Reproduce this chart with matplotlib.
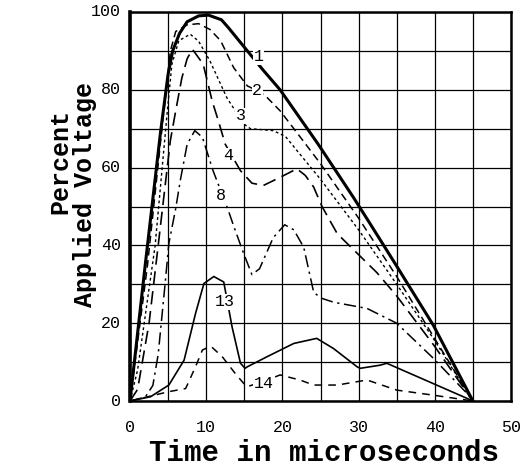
import matplotlib
matplotlib.use("Agg")
import matplotlib.pyplot as plt

# ---- data ----
t1 = [0, 2, 4, 5, 5.6, 6.5, 7.5, 9, 10.3, 12, 12.9, 15.4, 17.5, 19.7, 24.7, 29.3, 31.5, 34.8, 39.8, 45]
v1 = [0, 35, 69, 84, 90, 94.5, 97.5, 99, 99.2, 98, 96, 90, 85, 80, 66, 52.4, 45.6, 35.3, 19.5, 0]

t2 = [0, 2.3, 4.3, 4.7, 5.3, 6, 7.5, 9, 10.5, 11.9, 13.6, 15.4, 17, 18, 19.7, 21.7, 25, 30, 35, 40, 45]
v2 = [0, 35, 72, 79, 90, 95, 96.7, 97, 95.5, 92.6, 85.7, 81, 79.5, 78, 74.6, 69.5, 61, 47, 32, 16, 0]

t3 = [0, 1, 3.3, 4.9, 5.5, 6.4, 7.9, 9, 10.5, 12.7, 14.9, 15.8, 18.8, 20.4, 25, 30, 35, 40, 45]
v3 = [0, 8, 40, 74.6, 86.6, 92.6, 94.3, 92.5, 87.4, 78, 71.3, 70, 69.5, 68, 57, 44, 30, 15.5, 0]

t4 = [0, 1, 2.5, 3.7, 5.3, 6.0, 6.8, 7.5, 8.2, 9.6, 10.8, 11.6, 12.5, 14.5, 16, 17.5, 19.7, 21.9, 23, 24.1, 25.2, 27.2, 29.8, 32.4, 35, 40, 45]
v4 = [0, 3, 20, 40, 67, 74.6, 83, 88, 90.4, 86.6, 77, 72, 66, 59.2, 56, 55.4, 57.5, 59.7, 58, 55, 50, 43, 38, 33, 27, 14, 0]

t8 = [0, 2, 3, 3.7, 4.6, 5.1, 6.0, 6.6, 7.5, 8.5, 9.5, 10.9, 12.9, 13.6, 14.9, 16.0, 17, 18.8, 20.3, 21.5, 22.8, 24.1, 25, 26.7, 31.1, 35, 39.8, 44.2, 45]
v8 = [0, 1, 4, 12, 30, 40.5, 49.5, 56.7, 66, 69.5, 67.8, 59.2, 49, 45, 38, 32.5, 34, 42, 45.3, 44, 39.5, 28, 26.5, 25.4, 23.8, 20, 11, 2, 0]

t13 = [0, 2.7, 5.1, 7.1, 8.6, 9.7, 11, 12.3, 13.4, 14.5, 15.1, 15.4, 18, 21.5, 24.5, 26.7, 29.8, 30.2, 32.8, 33.7, 44.2, 45]
v13 = [0, 1.1, 4.1, 10.5, 22.5, 30.2, 32, 30.6, 19, 9.7, 8.4, 8.8, 11.4, 14.8, 16.1, 13.5, 8.8, 8.4, 9.2, 9.7, 0.7, 0]

t14 = [0, 5.1, 7.3, 8.6, 9.5, 10.6, 12.1, 13.8, 15.1, 15.4, 17.5, 19.7, 22.3, 24.1, 27.2, 31.1, 35, 39.8, 45]
v14 = [0, 2.4, 3.2, 8.8, 13.1, 14.1, 11.4, 7.1, 4.1, 3.7, 5, 6.7, 5.4, 4.1, 4.1, 5.4, 2.8, 1.5, 0]

labels = ["1", "2", "3", "4", "8", "13", "14"]
label_t = [16.9, 16.7, 14.5, 12.9, 11.9, 12.5, 17.5]
label_v = [88.5, 79.7, 73.3, 63, 52.8, 25.5, 4.5]

xticks = [0, 10, 20, 30, 40, 50]
yticks = [0, 20, 40, 60, 80, 100]

# ---- figure ----
fig = plt.figure(figsize=(5.31, 4.75), dpi=100)
ax = fig.add_axes([130/531, 1-401/475, 381/531, 389/475])

mono = "Liberation Mono"

ax.plot(t1, v1, color="black", lw=2.2, solid_capstyle="round")
ax.plot(t2, v2, color="black", lw=1.1, dashes=(5, 3))
ax.plot(t3, v3, color="black", lw=1.0, dashes=(2, 2))
ax.plot(t4, v4, color="black", lw=1.2, dashes=(8, 4))
ax.plot(t8, v8, color="black", lw=1.1, dashes=(8, 3, 1.5, 3))
ax.plot(t13, v13, color="black", lw=1.2)
ax.plot(t14, v14, color="black", lw=1.1, dashes=(5, 4))

for s, x, y in zip(labels, label_t, label_v):
    ax.text(x, y, s, ha="center", va="center", fontsize=12, family=mono,
            bbox=dict(facecolor="white", edgecolor="none", pad=0.3))

ax.set_xlim(0, 50)
ax.set_ylim(0, 100)
ax.set_xticks(range(0, 51, 5))
ax.set_yticks(range(0, 101, 10))
ax.grid(True, color="black", lw=0.9)
ax.set_axisbelow(True)
ax.tick_params(length=0, labelbottom=False, labelleft=False)
for sp in ax.spines.values():
    sp.set_linewidth(1.8)
ax.spines["left"].set_linewidth(2.6)

for x in xticks:
    ax.text(x, -6.8, str(x), ha="center", va="center", fontsize=12, family=mono,
            clip_on=False)
for y in yticks:
    ax.text(-1.2, y, str(y), ha="right", va="center", fontsize=12, family=mono,
            clip_on=False)

fig.text(324/531, 1-453/475, "Time in microseconds", ha="center", va="center",
         fontsize=21, family=mono, fontweight="bold")
fig.text(60/531, 1-162/475, "Percent", ha="center", va="center",
         rotation=90, fontsize=18, family=mono, fontweight="bold")
fig.text(85/531, 1-194/475, "Applied Voltage", ha="center", va="center",
         rotation=90, fontsize=18, family=mono, fontweight="bold")

fig.savefig("out.png", dpi=100, facecolor="white")
